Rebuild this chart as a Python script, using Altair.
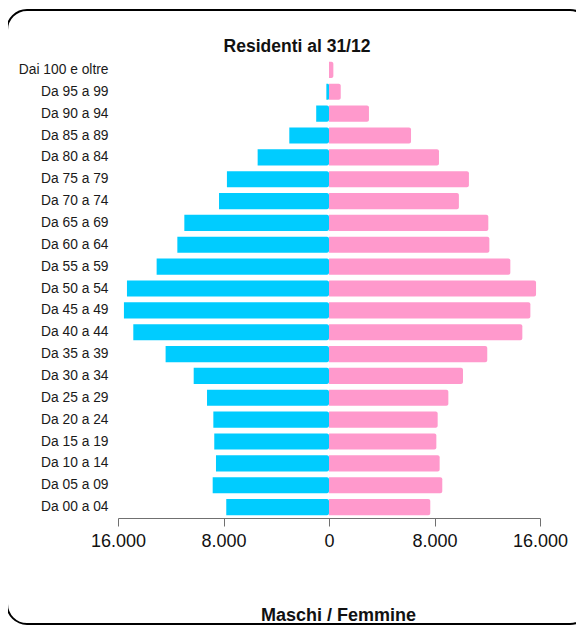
import altair as alt
import pandas as pd

age_groups = ["Dai 100 e oltre", "Da 95 a 99", "Da 90 a 94", "Da 85 a 89", "Da 80 a 84",
              "Da 75 a 79", "Da 70 a 74", "Da 65 a 69", "Da 60 a 64", "Da 55 a 59",
              "Da 50 a 54", "Da 45 a 49", "Da 40 a 44", "Da 35 a 39", "Da 30 a 34",
              "Da 25 a 29", "Da 20 a 24", "Da 15 a 19", "Da 10 a 14", "Da 05 a 09",
              "Da 00 a 04"]
males = [0, 200, 970, 3010, 5410, 7740, 8340, 10970, 11500, 13070,
         15320, 15550, 14840, 12390, 10260, 9250, 8770, 8700, 8570, 8820, 7790]
females = [330, 890, 3030, 6220, 8340, 10610, 9850, 12080, 12160, 13750,
           15700, 15270, 14660, 12000, 10160, 9050, 8240, 8140, 8390, 8590, 7680]
tick_values = [-16000, -8000, 0, 8000, 16000]

rows = []
for g, m, f in zip(age_groups, males, females):
    rows.append({"eta": g, "sesso": "Maschi", "valore": -m})
    rows.append({"eta": g, "sesso": "Femmine", "valore": f})
df = pd.DataFrame(rows)

FONT = "Liberation Sans"

bars = alt.Chart(df).mark_bar(cornerRadiusEnd=2).encode(
    y=alt.Y("eta:N", sort=age_groups,
            scale=alt.Scale(paddingInner=0.26, paddingOuter=0.13),
            axis=alt.Axis(title=None, domain=False, ticks=False, labelPadding=10,
                          labelFontSize=13.8, labelFont=FONT, labelColor="#1a1a1a")),
    x=alt.X("valore:Q", stack=None,
            scale=alt.Scale(domain=[-16000, 16000], nice=False),
            axis=alt.Axis(values=tick_values, grid=False,
                          labelExpr="replace(format(abs(datum.value), ','), ',', '.')",
                          labelFontSize=18, labelFont=FONT, labelColor="#111111",
                          labelPadding=6, tickSize=8, tickColor="#707070",
                          domainColor="#707070", labelOverlap=False, labelFlush=False,
                          title="Maschi / Femmine", titleFont=FONT, titleFontSize=18,
                          titleFontWeight="bold", titleColor="#111111",
                          titleX=220, titleY=102, titleBaseline="alphabetic")),
    color=alt.Color("sesso:N", scale=alt.Scale(domain=["Maschi", "Femmine"],
                                              range=["#00CCFF", "#FF99CC"]),
                    legend=None),
)

one = pd.DataFrame({"t": ["Residenti al 31/12"]})

title = alt.Chart(one).mark_text(font=FONT, fontSize=17.5, fontWeight="bold",
                                 color="#111111", baseline="alphabetic",
                                 align="center").encode(
    text="t:N", x=alt.value(179), y=alt.value(-7))

frame = alt.Chart(one).mark_rect(fill=None, fillOpacity=0, stroke="black",
                                 strokeWidth=2, cornerRadius=20).encode(
    x=alt.value(-111), x2=alt.value(472), y=alt.value(-49), y2=alt.value(565))

chart = alt.layer(frame, bars, title).properties(
    width=422, height=459,
    autosize=alt.AutoSizeParams(type="none"),
    padding={"left": 110, "top": 51, "right": 36, "bottom": 107},
).configure_view(stroke=None)

chart.save("out.html", embed_options={"renderer": "svg", "actions": False})
